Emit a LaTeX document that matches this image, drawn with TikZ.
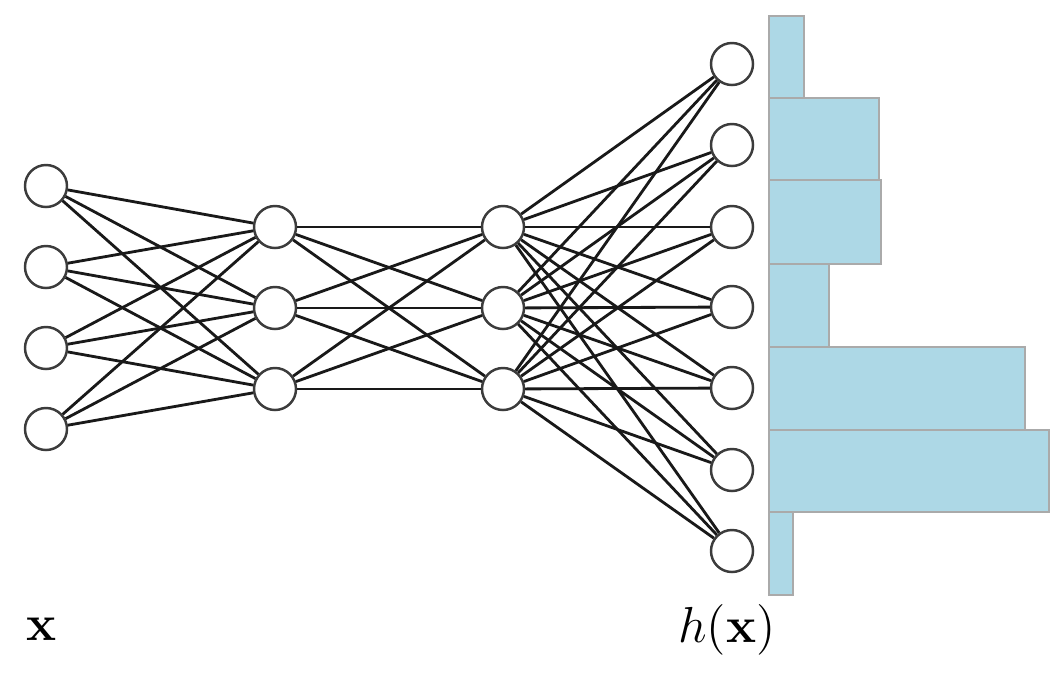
\documentclass[tikz,border=0pt]{standalone}
\usepackage{tikz}

\begin{document}
\begin{tikzpicture}[x=0.01cm, y=-0.01cm]

\definecolor{barcolor}{RGB}{173, 216, 230}
\definecolor{baredge}{RGB}{170, 170, 170}
\definecolor{unitedge}{RGB}{60, 60, 60}

\tikzset{
  unit/.style={circle, draw=unitedge, line width=0.7pt, fill=white, minimum size=0.42cm, inner sep=0pt},
  wire/.style={line width=0.8pt, black!90},
  histbar/.style={fill=barcolor, draw=baredge, line width=0.6pt}
}

\useasboundingbox (0, 0) rectangle (1063, 675);

% input layer
\node[unit] (in1) at (46, 186) {};
\node[unit] (in2) at (46, 267) {};
\node[unit] (in3) at (46, 348) {};
\node[unit] (in4) at (46, 429) {};

% first hidden layer
\node[unit] (ha1) at (275, 227) {};
\node[unit] (ha2) at (275, 308) {};
\node[unit] (ha3) at (275, 389) {};

% second hidden layer
\node[unit] (hb1) at (503, 227) {};
\node[unit] (hb2) at (503, 308) {};
\node[unit] (hb3) at (503, 389) {};

% output layer
\node[unit] (out1) at (732, 64) {};
\node[unit] (out2) at (732, 145) {};
\node[unit] (out3) at (732, 227) {};
\node[unit] (out4) at (732, 307) {};
\node[unit] (out5) at (732, 388) {};
\node[unit] (out6) at (732, 470) {};
\node[unit] (out7) at (732, 551) {};

% connections
\foreach \i in {1,...,4}
  \foreach \j in {1,...,3}
    \draw[wire] (in\i) -- (ha\j);
\foreach \i in {1,...,3}
  \foreach \j in {1,...,3}
    \draw[wire] (ha\i) -- (hb\j);
\foreach \i in {1,...,3}
  \foreach \j in {1,...,7}
    \draw[wire] (hb\i) -- (out\j);

% histogram
\draw[histbar] (769, 16) rectangle (804, 98);
\draw[histbar] (769, 98) rectangle (879, 180);
\draw[histbar] (769, 180) rectangle (881, 264);
\draw[histbar] (769, 264) rectangle (829, 347);
\draw[histbar] (769, 347) rectangle (1025, 430);
\draw[histbar] (769, 430) rectangle (1049, 512);
\draw[histbar] (769, 512) rectangle (793, 595);

% labels
\node[font=\Large] (lblx) at (42, 629) {$\mathbf{x}$};
\node[font=\Large] (lblh) at (727, 630) {$h(\mathbf{x})$};

\end{tikzpicture}
\end{document}
